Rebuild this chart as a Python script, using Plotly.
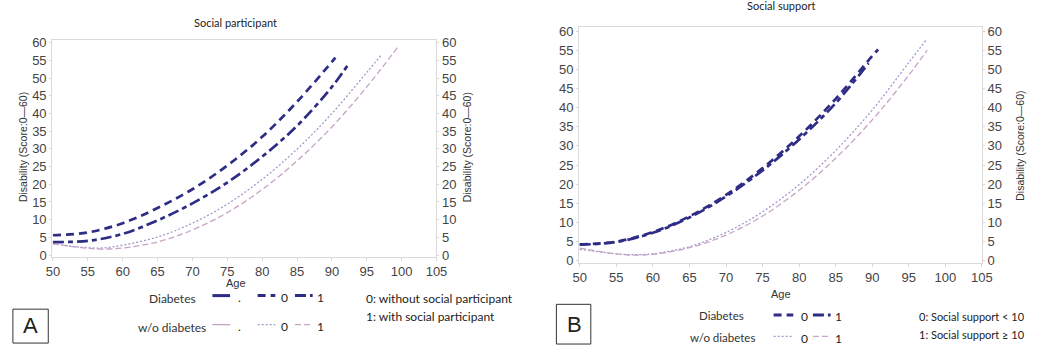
import plotly.graph_objects as go

W, H = 1048, 351

# ---------------- data ----------------
# Panel A: Social participant
sp_age_diab0 = [50, 55, 60, 65, 70, 75, 80, 85, 90, 90.5]
sp_diab0 = [5.6, 6.4, 9.0, 13.3, 18.6, 25.3, 33.4, 43.3, 54.6, 55.8]
sp_age_diab1 = [50, 55, 60, 65, 70, 75, 80, 85, 90, 92.5]
sp_diab1 = [3.7, 4.0, 6.0, 9.8, 14.6, 20.5, 27.8, 36.5, 47.5, 54.3]
sp_age_nodiab0 = [50, 53, 55, 57, 60, 65, 70, 75, 80, 85, 90, 95, 97.2]
sp_nodiab0 = [3.2, 2.4, 2.1, 2.0, 2.8, 5.1, 9.0, 14.4, 21.4, 29.9, 40.0, 51.6, 56.8]
sp_age_nodiab1 = [50, 55, 57, 60, 65, 70, 75, 80, 85, 90, 95, 99.5]
sp_nodiab1 = [3.2, 1.9, 1.7, 2.0, 3.7, 7.1, 12.0, 18.5, 26.6, 36.2, 47.5, 58.9]

# Panel B: Social support
ss_age_diab0 = [50, 55, 60, 65, 70, 75, 80, 85, 90, 90.8]
ss_diab0 = [4.3, 5.0, 7.5, 11.6, 17.2, 24.2, 32.5, 42.3, 53.5, 55.2]
ss_age_diab1 = [50, 55, 60, 65, 70, 75, 80, 85, 89.5]
ss_diab1 = [4.2, 4.9, 7.3, 11.3, 16.8, 23.6, 31.7, 41.2, 51.6]
ss_age_nodiab0 = [50, 55, 57, 60, 65, 70, 75, 80, 85, 90, 95, 97.5]
ss_nodiab0 = [3.0, 1.8, 1.6, 1.8, 3.7, 7.4, 12.8, 19.9, 28.8, 39.4, 51.8, 58.0]
ss_age_nodiab1 = [50, 55, 57, 60, 65, 70, 75, 80, 85, 90, 95, 97.5]
ss_nodiab1 = [3.3, 1.8, 1.5, 1.7, 3.4, 6.7, 11.7, 18.4, 26.8, 36.8, 48.5, 55.0]

x_ticks = [50, 55, 60, 65, 70, 75, 80, 85, 90, 95, 100, 105]
y_ticks = [0, 5, 10, 15, 20, 25, 30, 35, 40, 45, 50, 55, 60]

# ---------------- styles ----------------
NAVY = "#2e2d86"
DOT_PURPLE = "#a397cc"
DASH_PINK = "#c6a4c6"
FRAME = "#d9d9d9"
NARROW = "Liberation Sans Narrow, Arial Narrow, Liberation Sans, Arial"
TICK_FONT = dict(family=NARROW, size=13, color="#444444")
TXT_FONT = dict(family="Lato, Open Sans, sans-serif", size=12, color="#222222")

DASH_0 = "8px,5px"
DASH_1 = "11px,4px,5px,4px"
DOT_W = "2px,2px"
DASH_W = "6px,3px"


def px(x):
    return x / W


def py(y):
    return 1 - y / H


fig = go.Figure()


def add_curve(x, y, xa, ya, color, width, dash):
    fig.add_trace(go.Scatter(x=x, y=y, xaxis=xa, yaxis=ya, mode="lines",
                             line=dict(color=color, width=width, dash=dash, shape="spline"),
                             showlegend=False, hoverinfo="skip"))


add_curve(sp_age_nodiab0, sp_nodiab0, "x", "y", DOT_PURPLE, 1.3, DOT_W)
add_curve(sp_age_nodiab1, sp_nodiab1, "x", "y", DASH_PINK, 1.3, DASH_W)
add_curve(sp_age_diab0, sp_diab0, "x", "y", NAVY, 2.7, DASH_0)
add_curve(sp_age_diab1, sp_diab1, "x", "y", NAVY, 2.7, DASH_1)

add_curve(ss_age_nodiab0, ss_nodiab0, "x2", "y2", DOT_PURPLE, 1.3, DOT_W)
add_curve(ss_age_nodiab1, ss_nodiab1, "x2", "y2", DASH_PINK, 1.3, DASH_W)
add_curve(ss_age_diab0, ss_diab0, "x2", "y2", NAVY, 2.7, DASH_0)
add_curve(ss_age_diab1, ss_diab1, "x2", "y2", NAVY, 2.7, DASH_1)

# invisible traces so the right-side axes are drawn
fig.add_trace(go.Scatter(x=[50], y=[0], xaxis="x", yaxis="y3", mode="none", showlegend=False, hoverinfo="skip"))
fig.add_trace(go.Scatter(x=[50], y=[0], xaxis="x2", yaxis="y4", mode="none", showlegend=False, hoverinfo="skip"))

xcommon = dict(tickvals=x_ticks, showgrid=False, zeroline=False, showline=True, linecolor=FRAME,
               linewidth=1, mirror=True, ticks="outside", ticklen=3, tickcolor=FRAME,
               tickfont=TICK_FONT)
ycommon = dict(tickvals=y_ticks, showgrid=False, zeroline=False, showline=True, linecolor=FRAME,
               linewidth=1, ticks="outside", ticklen=2, tickcolor=FRAME, tickfont=TICK_FONT)

A_x0, A_x1, A_y0, A_y1 = 46, 437, 36, 260
B_x0, B_x1, B_y0, B_y1 = 582, 992, 23, 266

fig.update_layout(
    width=W, height=H,
    margin=dict(l=0, r=0, t=0, b=0),
    paper_bgcolor="white", plot_bgcolor="white",
    xaxis=dict(domain=[px(A_x0), px(A_x1)], range=[49.9, 105], anchor="y", **xcommon),
    yaxis=dict(domain=[py(A_y1), py(A_y0)], range=[-0.5, 60.8], anchor="x", mirror=True, **ycommon),
    yaxis3=dict(overlaying="y", side="right", anchor="x", range=[-0.5, 60.8], **ycommon),
    xaxis2=dict(domain=[px(B_x0), px(B_x1)], range=[49.9, 105], anchor="y2", **xcommon),
    yaxis2=dict(domain=[py(B_y1), py(B_y0)], range=[-0.5, 61], anchor="x2", mirror=True, **ycommon),
    yaxis4=dict(overlaying="y2", side="right", anchor="x2", range=[-0.5, 61], **ycommon),
)

ann = []


def text(x, y, s, size=12, angle=0, xanchor="center", family=None, color="#222222"):
    f = dict(TXT_FONT)
    f["size"] = size
    f["color"] = color
    if family:
        f["family"] = family
    ann.append(dict(x=px(x), y=py(y), xref="paper", yref="paper", text=s, showarrow=False,
                    font=f, textangle=angle, xanchor=xanchor, yanchor="middle"))


# titles
text(233, 18, "Social participant", 11)
text(788, 1, "Social support", 11)

# axis titles
text(233, 287, "Age", 11, family=NARROW, color="#333333")
text(788, 298, "Age", 11, family=NARROW, color="#333333")
ytitle = "Disability (Score:0\u201460)"
for xx, yy in [(17, 147), (468, 147), (1031, 145)]:
    text(xx, yy, ytitle, 10.5, angle=-90, family=NARROW, color="#333333")

shapes = []


def seg(x0, x1, y, color, width, dash):
    shapes.append(dict(type="line", xref="paper", yref="paper", x0=px(x0), x1=px(x1),
                       y0=py(y), y1=py(y), line=dict(color=color, width=width, dash=dash)))


# legend, panel A
text(168, 303, "Diabetes", 12, color="#333333")
text(168, 333, "w/o diabetes", 12, color="#333333")
seg(209, 227, 300, NAVY, 3, "solid")
text(237, 302, ".", 12)
seg(255, 273, 300, NAVY, 3, DASH_0)
text(282, 302, "0", 12)
seg(293, 311, 300, NAVY, 3, DASH_1)
text(319, 302, "1", 12)
seg(209, 227, 330, DASH_PINK, 1.3, "solid")
text(237, 332, ".", 12)
seg(255, 273, 330, DOT_PURPLE, 1.3, DOT_W)
text(282, 332, "0", 12)
seg(293, 311, 330, DASH_PINK, 1.3, DASH_W)
text(319, 332, "1", 12)
text(363, 303, "0: without social participant", 12, xanchor="left")
text(363, 322, "1: with social participant", 12, xanchor="left")
shapes.append(dict(type="rect", xref="paper", yref="paper", x0=px(6), x1=px(42), y0=py(349), y1=py(314),
                   line=dict(color="#333333", width=1)))
text(24, 331, "A", 22, family="Liberation Sans, Arial")

# legend, panel B
text(727, 321, "Diabetes", 11.5, color="#333333")
text(728, 343, "w/o diabetes", 11.5, color="#333333")
seg(780, 800, 320, NAVY, 3, DASH_0)
text(811, 322, "0", 12)
seg(820, 838, 320, NAVY, 3, DASH_1)
text(846, 322, "1", 12)
seg(780, 800, 342, DOT_PURPLE, 1.3, DOT_W)
text(811, 344, "0", 12)
seg(820, 838, 342, DASH_PINK, 1.3, DASH_W)
text(846, 344, "1", 12)
text(1038, 322, "0: Social support < 10", 11, xanchor="right")
text(1038, 340, "1: Social support \u2265 10", 11, xanchor="right")
shapes.append(dict(type="rect", xref="paper", yref="paper", x0=px(559), x1=px(594), y0=py(350), y1=py(309),
                   line=dict(color="#333333", width=1)))
text(577, 330, "B", 22, family="Liberation Sans, Arial")

fig.update_layout(annotations=ann, shapes=shapes)

fig.write_html("out.html")
